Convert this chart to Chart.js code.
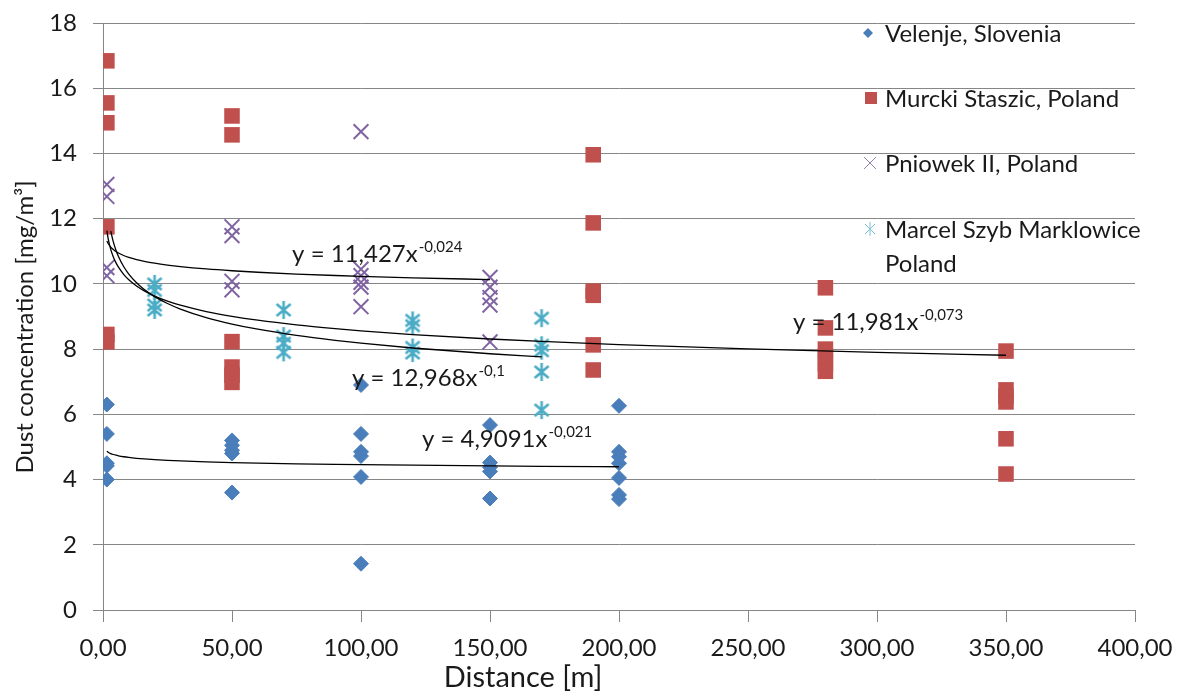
<!DOCTYPE html>
<html>
<head>
<meta charset="utf-8">
<title>Dust concentration vs distance</title>
<script src="https://cdn.jsdelivr.net/npm/chart.js@4.4.1/dist/chart.umd.min.js"></script>
<style>
  html, body { margin: 0; padding: 0; background: #fff; }
  #wrap { width: 1178px; height: 693px; }
</style>
</head>
<body>
<div id="wrap"><canvas id="chart" width="1178" height="693"></canvas></div>
<script>
// ── Data ────────────────────────────────────────────────
const seriesNames = ['Velenje, Slovenia', 'Murcki Staszic, Poland', 'Pniowek II, Poland', 'Marcel Szyb Marklowice|Poland'];

const distVelenje = [1.5, 1.5, 1.5, 1.5, 1.5, 50, 50, 50, 50, 50, 100, 100, 100, 100, 100, 100, 150, 150, 150, 150, 150, 200, 200, 200, 200, 200, 200, 200];
const dustVelenje = [6.3, 5.4, 4.5, 4.42, 4.0, 5.2, 5.05, 4.9, 4.8, 3.6, 6.9, 5.4, 4.85, 4.72, 4.08, 1.42, 5.67, 4.52, 4.38, 4.25, 3.42, 6.26, 4.85, 4.7, 4.5, 4.05, 3.53, 3.4];

const distMurcki = [1.5, 1.5, 1.5, 1.5, 1.5, 1.5, 50, 50, 50, 50, 50, 50, 190, 190, 190, 190, 190, 190, 280, 280, 280, 280, 280, 280, 350, 350, 350, 350, 350, 350];
const dustMurcki = [16.84, 15.55, 14.94, 11.75, 8.45, 8.22, 15.15, 14.57, 8.23, 7.45, 7.2, 6.98, 13.96, 11.87, 9.78, 9.65, 8.13, 7.36, 9.88, 8.65, 8.0, 7.78, 7.55, 7.32, 7.94, 6.75, 6.55, 6.38, 5.25, 4.17];

const distPniowek = [1.5, 1.5, 1.5, 1.5, 50, 50, 50, 50, 100, 100, 100, 100, 100, 100, 150, 150, 150, 150, 150];
const dustPniowek = [13.05, 12.68, 10.5, 10.25, 11.75, 11.48, 10.08, 9.82, 14.67, 10.45, 10.25, 10.05, 9.9, 9.3, 10.2, 9.9, 9.58, 9.35, 8.22];

const distMarcel = [20, 20, 20, 20, 70, 70, 70, 70, 120, 120, 120, 120, 170, 170, 170, 170, 170];
const dustMarcel = [10.0, 9.8, 9.35, 9.2, 9.2, 8.4, 8.18, 7.9, 8.88, 8.72, 8.05, 7.88, 8.95, 8.12, 7.95, 7.3, 6.13];

// power trendlines y = a * x^b, as printed on the chart
const trendA     = [4.9091, 11.981, 11.427, 12.968];
const trendB     = [-0.021, -0.073, -0.024, -0.1];
const trendFrom  = [1.5, 1.5, 1.5, 3];
const trendTo    = [200, 350, 150, 170];
const trendX     = [1.5, 2, 3, 4, 5, 6, 8, 10, 13, 16, 20, 25, 30, 40, 50, 60, 75, 90, 100, 120, 150, 170, 200, 250, 300, 350];
const trendCoef  = ['4,9091', '11,981', '11,427', '12,968'];
const trendPow   = ['-0,021', '-0,073', '-0,024', '-0,1'];

const xTicks = [0, 50, 100, 150, 200, 250, 300, 350, 400];
const yTicks = [0, 2, 4, 6, 8, 10, 12, 14, 16, 18];

// ── Styles ──────────────────────────────────────────────
const COLORS = ['#4A7EBB', '#C0504D', '#8064A2', '#4BACC6'];
const FONT = 'Lato, "Open Sans", sans-serif';
const TEXT = '#1a1a1a';
const GRID = '#868686';

function toPoints(xs, ys) {
  return xs.map((x, i) => ({ x, y: ys[i] }));
}

function makeAsterisk(color, lw, hx, hy, vy) {
  const c = document.createElement('canvas');
  c.width = 22; c.height = 22;
  const g = c.getContext('2d');
  const m = 11;
  g.strokeStyle = color;
  g.lineWidth = lw;
  g.beginPath();
  g.moveTo(m - hx, m - hy); g.lineTo(m + hx, m + hy);
  g.moveTo(m - hx, m + hy); g.lineTo(m + hx, m - hy);
  g.moveTo(m, m - vy); g.lineTo(m, m + vy);
  g.stroke();
  return c;
}

function trendData(i) {
  return trendX
    .filter(x => x >= trendFrom[i] && x <= trendTo[i])
    .map(x => ({ x, y: trendA[i] * Math.pow(x, trendB[i]) }));
}

// ── Overlay: trend labels, legend, axis titles ──────────
const overlay = {
  id: 'overlay',
  afterDraw(chart) {
    const { ctx, scales: { x, y } } = chart;
    ctx.save();
    ctx.fillStyle = TEXT;
    ctx.textBaseline = 'alphabetic';
    ctx.textAlign = 'left';

    // trendline equations (anchor = left / baseline in data units)
    const anchors = [[123.6, 5.0], [267.4, 8.59], [73.3, 10.67], [96.5, 6.87]];
    anchors.forEach(([ax, ay], i) => {
      const px = x.getPixelForValue(ax), py = y.getPixelForValue(ay);
      ctx.font = '24px ' + FONT;
      const base = 'y = ' + trendCoef[i] + 'x';
      ctx.fillText(base, px, py);
      const w = ctx.measureText(base).width;
      ctx.font = '15px ' + FONT;
      ctx.fillText(trendPow[i], px + w + 1, py - 10);
    });

    // legend
    const lx = 871, tx = 885;
    const rows = [42, 107, 172, 238];
    ctx.font = '24px ' + FONT;
    seriesNames.forEach((name, i) => {
      name.split('|').forEach((line, j) => ctx.fillText(line, tx, rows[i] + j * 34));
    });
    // legend markers
    const my = rows.map(r => r - 9);
    ctx.fillStyle = COLORS[0];
    ctx.beginPath();
    ctx.moveTo(lx - 3, my[0] - 5); ctx.lineTo(lx + 2, my[0]); ctx.lineTo(lx - 3, my[0] + 5); ctx.lineTo(lx - 8, my[0]);
    ctx.closePath(); ctx.fill();
    ctx.fillStyle = COLORS[1];
    ctx.fillRect(lx - 6, my[1] - 6, 12, 12);
    ctx.strokeStyle = '#9583b3';
    ctx.lineWidth = 1;
    ctx.beginPath();
    ctx.moveTo(lx - 7, my[2] - 6); ctx.lineTo(lx + 5, my[2] + 6);
    ctx.moveTo(lx - 7, my[2] + 6); ctx.lineTo(lx + 5, my[2] - 6);
    ctx.stroke();
    ctx.strokeStyle = '#7cc3d6';
    ctx.beginPath();
    ctx.moveTo(lx - 6, my[3] - 5); ctx.lineTo(lx + 4, my[3] + 5);
    ctx.moveTo(lx - 6, my[3] + 5); ctx.lineTo(lx + 4, my[3] - 5);
    ctx.moveTo(lx - 1, my[3] - 7); ctx.lineTo(lx - 1, my[3] + 7);
    ctx.stroke();

    // axis titles
    ctx.fillStyle = TEXT;
    ctx.textAlign = 'center';
    ctx.font = '29px ' + FONT;
    ctx.fillText('Distance [m]', 523, 687);
    ctx.font = '24px ' + FONT;
    ctx.translate(33, 327);
    ctx.rotate(-Math.PI / 2);
    ctx.fillText('Dust concentration [mg/m\u00B3]', 0, 0);
    ctx.restore();
  }
};

// ── Chart ───────────────────────────────────────────────
const scatterSets = [
  { label: seriesNames[0], data: toPoints(distVelenje, dustVelenje), pointStyle: 'rectRot', pointRadius: 7.5,
    backgroundColor: COLORS[0], borderColor: COLORS[0], borderWidth: 1, order: 4 },
  { label: seriesNames[1], data: toPoints(distMurcki, dustMurcki), pointStyle: 'rect', pointRadius: 11,
    backgroundColor: COLORS[1], borderColor: COLORS[1], borderWidth: 0, order: 3 },
  { label: seriesNames[2], data: toPoints(distPniowek, dustPniowek), pointStyle: 'crossRot', pointRadius: 10.5,
    backgroundColor: COLORS[2], borderColor: COLORS[2], borderWidth: 2, order: 2 },
  { label: seriesNames[3], data: toPoints(distMarcel, dustMarcel), pointStyle: makeAsterisk(COLORS[3], 2.6, 7, 6, 9),
    backgroundColor: COLORS[3], borderColor: COLORS[3], order: 1 },
];

const trendSets = trendA.map((a, i) => ({
  type: 'line',
  label: 'trend ' + i,
  data: trendData(i),
  showLine: true,
  borderColor: '#000',
  borderWidth: 1.3,
  pointRadius: 0,
  cubicInterpolationMode: 'monotone',
  fill: false,
  order: 0,
}));

new Chart(document.getElementById('chart'), {
  type: 'scatter',
  data: { datasets: [...trendSets, ...scatterSets] },
  options: {
    responsive: false,
    animation: false,
    layout: { autoPadding: false, padding: { left: 0, right: 43, top: 23, bottom: 0 } },
    plugins: { legend: { display: false }, tooltip: { enabled: false } },
    scales: {
      x: {
        type: 'linear', min: 0, max: 400,
        afterBuildTicks: s => { s.ticks = xTicks.map(v => ({ value: v })); },
        afterFit: s => { s.height = 83; s.paddingLeft = 0; s.paddingRight = 0; },
        ticks: { color: TEXT, font: { family: FONT, size: 24 }, padding: 12, maxRotation: 0,
          callback: v => v.toFixed(2).replace('.', ',') },
        grid: { drawOnChartArea: false, color: GRID, tickLength: 12 },
        border: { display: true, color: GRID },
      },
      y: {
        type: 'linear', min: 0, max: 18,
        afterBuildTicks: s => { s.ticks = yTicks.map(v => ({ value: v })); },
        afterFit: s => { s.width = 103; s.paddingTop = 0; s.paddingBottom = 0; },
        ticks: { color: TEXT, font: { family: FONT, size: 24 }, padding: 16 },
        grid: { color: GRID, tickLength: 10 },
        border: { display: true, color: GRID },
      },
    },
  },
  plugins: [overlay],
});
</script>
</body>
</html>
